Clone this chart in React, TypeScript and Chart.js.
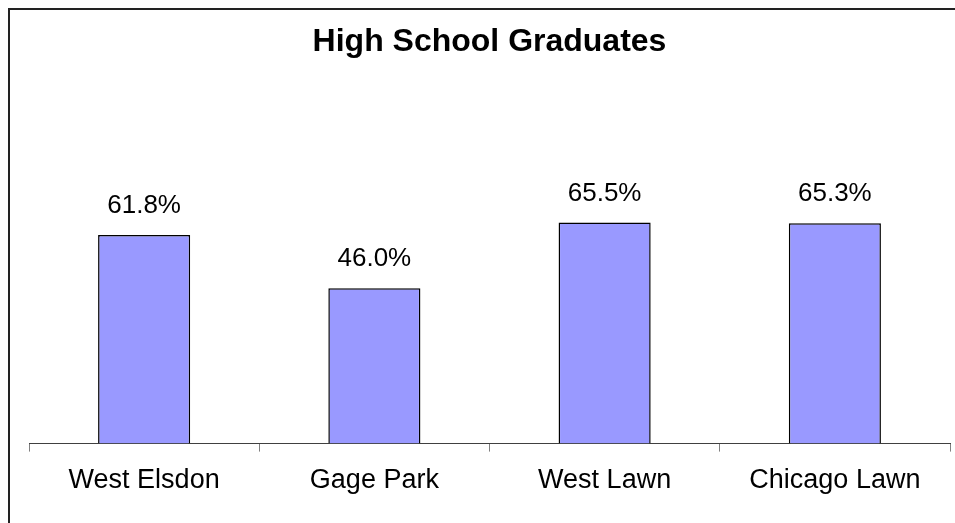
import React, { useEffect, useRef } from "react";
import { Chart, registerables } from "chart.js";

Chart.register(...registerables);

const categories = ["West Elsdon", "Gage Park", "West Lawn", "Chicago Lawn"];
const values = [61.8, 46.0, 65.5, 65.3];
const valueLabels = ["61.8%", "46.0%", "65.5%", "65.3%"];
const titleText = "High School Graduates";

const FONT = "'Liberation Sans', Arial, sans-serif";

const valueLabelPlugin = {
  id: "valueLabels",
  afterDatasetsDraw(chart: any) {
    const ctx = chart.ctx;
    const meta = chart.getDatasetMeta(0);
    ctx.save();
    ctx.font = `26px ${FONT}`;
    ctx.fillStyle = "#000";
    ctx.textAlign = "center";
    ctx.textBaseline = "middle";
    meta.data.forEach((bar: any, i: number) => {
      ctx.fillText(valueLabels[i], bar.x, bar.y - 29);
    });
    ctx.restore();
  },
};

export default function App() {
  const ref = useRef<HTMLCanvasElement>(null);
  useEffect(() => {
    document.documentElement.style.overflow = "hidden";
    document.body.style.marginRight = "0px";
    document.body.style.marginBottom = "0px";
    const chart = new Chart(ref.current as HTMLCanvasElement, {
      type: "bar",
      data: {
        labels: categories,
        datasets: [
          {
            data: values,
            backgroundColor: "#9999FF",
            borderColor: "#000000",
            borderWidth: 1.5,
            barPercentage: 0.4,
            categoryPercentage: 1,
          },
        ],
      },
      options: {
        animation: false,
        responsive: false,
        maintainAspectRatio: false,
        layout: { padding: { left: 19, right: 5, top: 0, bottom: 13 } },
        plugins: {
          legend: { display: false },
          tooltip: { enabled: false },
          title: {
            display: true,
            text: titleText,
            color: "#000",
            font: { family: FONT, size: 32, weight: "bold", lineHeight: 1.2 },
            padding: { top: 13.3, bottom: 44.3 },
          },
        },
        scales: {
          x: {
            offset: true,
            grid: {
              offset: true,
              drawOnChartArea: false,
              drawTicks: true,
              tickLength: 8,
              color: "#808080",
              lineWidth: 1,
            },
            border: { display: true, color: "#404040", width: 1 },
            ticks: {
              color: "#000",
              padding: 13,
              font: { family: FONT, size: 27, lineHeight: 1.2 },
              maxRotation: 0,
              autoSkip: false,
            },
          },
          y: {
            display: false,
            min: 0,
            max: 100,
          },
        },
      },
      plugins: [valueLabelPlugin],
    });
    return () => chart.destroy();
  }, []);

  return (
    <div
      style={{
        width: 947,
        height: 513,
        borderTop: "2px solid #222",
        borderLeft: "2px solid #222",
        background: "#fff",
        overflow: "hidden",
      }}
    >
      <canvas ref={ref} width={945} height={513} style={{ display: "block" }} />
    </div>
  );
}
